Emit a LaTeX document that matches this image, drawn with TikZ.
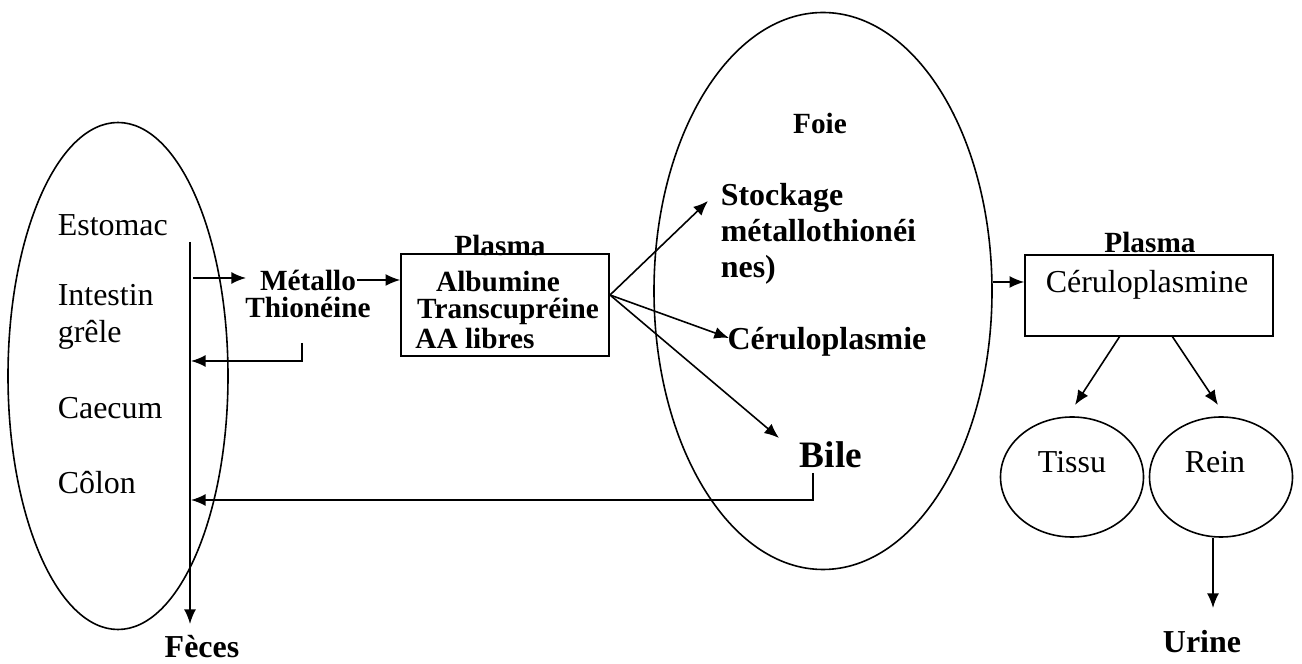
\documentclass[tikz,border=0pt]{standalone}
\usepackage{fontspec}
\setmainfont{Liberation Serif}
\usetikzlibrary{arrows.meta,shapes.geometric}
\tikzset{
  arr/.style={-{Latex[length=5.5pt,width=4.5pt]}},
  organ/.style={draw, ellipse, inner sep=0pt},
  plain/.style={font=\fontsize{12}{13.8}\selectfont, inner sep=0pt},
  bold/.style={font=\bfseries\fontsize{11}{10.5}\selectfont, inner sep=0pt},
  boldbig/.style={font=\bfseries\fontsize{12}{13.6}\selectfont, inner sep=0pt}
}
\begin{document}
\begin{tikzpicture}[x=0.0132cm, y=-0.0132cm, line width=0.6pt]
    \useasboundingbox (0,0) rectangle (1302,664);
    % tube digestif
    \node[organ, minimum width=220*0.0132cm, minimum height=507*0.0132cm] (gut) at (118,376) {};
    \node[plain, anchor=west] (estomac) at (57,225) {Estomac};
    \node[plain, anchor=west, align=left] (intestin) at (57,317) {Intestin\\grêle};
    \node[plain, anchor=west] (caecum) at (57,408) {Caecum};
    \node[plain, anchor=west] (colon) at (57,483) {Côlon};
    \coordinate (gtop) at (190,242);
    \coordinate (gbot) at (190,624);
    \draw[arr] (gtop) -- (gbot);
    \node[boldbig] (feces) at (202,647) {Fèces};
    % metallothioneine
    \node[bold] (metallo) at (308,280) {Métallo};
    \node[bold] (thio) at (308,307) {Thionéine};
    \coordinate (gout) at (193,278);
    \draw[arr] (gout) -- (246,278);
    \coordinate (brk) at (302,343);
    \coordinate (gin) at (191,361);
    \draw[arr] (brk) |- (gin);
    % plasma 1
    \node[draw, minimum width=208*0.0132cm, minimum height=102*0.0132cm] (plasmabox) at (505,305) {};
    \node[bold] (plasmaA) at (500,245) {Plasma};
    \node[bold] (albumine) at (498,282) {Albumine};
    \node[bold] (transcu) at (508,311) {Transcupréine};
    \node[bold] (aalibres) at (475,338) {AA libres};
    \draw[arr] (metallo.east) -- (metallo.east -| plasmabox.west);
    % foie
    \node[organ, minimum width=338*0.0132cm, minimum height=557*0.0132cm] (foie) at (823,291) {};
    \node[bold] (foielbl) at (820,123) {Foie};
    \node[boldbig, anchor=west, align=left] (stockage) at (720,234) {Stockage\\métallothionéi\\nes)};
    \node[boldbig] (cerulo) at (827,342) {Céruloplasmie};
    \node[font=\bfseries\fontsize{14}{16}\selectfont, inner sep=0pt] (bile) at (831,455) {Bile};
    \coordinate (pout) at (610,295);
    \draw[arr] (pout) -- (708,201);
    \draw[arr] (pout) -- (729,338);
    \draw[arr] (pout) -- (779,438);
    \coordinate (bout) at (813,473);
    \coordinate (gbile) at (191,500);
    \draw[arr] (bout) |- (gbile);
    % plasma 2
    \node[draw, minimum width=248*0.0132cm, minimum height=81*0.0132cm] (cerbox) at (1149,295.5) {};
    \node[bold] (plasmaB) at (1150,242) {Plasma};
    \node[plain] (cerulop) at (1147,285) {Céruloplasmine};
    \coordinate (fout) at (993,282);
    \draw[arr] (fout) -- (fout -| cerbox.west);
    % tissu et rein
    \node[organ, minimum width=143*0.0132cm, minimum height=120*0.0132cm] (tissu) at (1072,477) {};
    \node[organ, minimum width=143*0.0132cm, minimum height=120*0.0132cm] (rein) at (1221,477) {};
    \node[plain] (tissulbl) at (1072,462) {Tissu};
    \node[plain] (reinlbl) at (1215,462) {Rein};
    \draw[arr] (1120,336) -- (1075,405);
    \draw[arr] (1172,336) -- (1218,405);
    \draw[arr] (rein.south -| 1213,0) -- (1213,608);
    \node[boldbig] (urine) at (1202,642) {Urine};
\end{tikzpicture}
\end{document}
